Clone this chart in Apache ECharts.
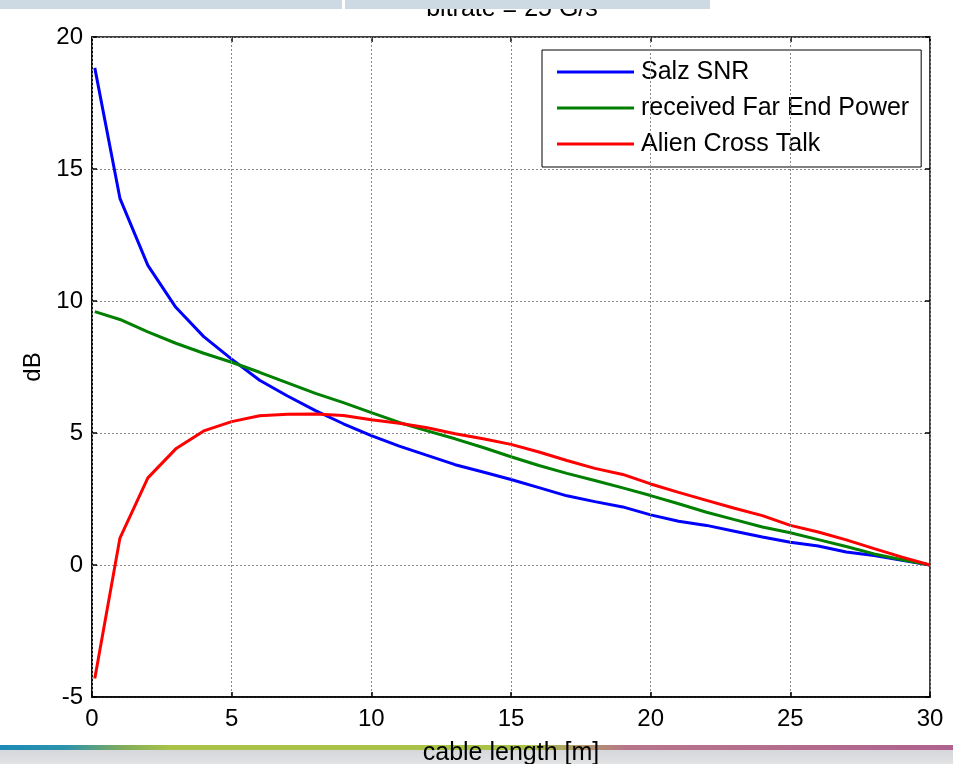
<!DOCTYPE html>
<html>
<head>
<meta charset="utf-8">
<script src="https://cdn.jsdelivr.net/npm/echarts@6/dist/echarts.min.js"></script>
<style>
  html, body { margin: 0; padding: 0; background: #fff; }
  #chart { width: 953px; height: 764px; }
</style>
</head>
<body>
<div id="chart"></div>
<script>
// cable length samples [m]
const cableLength = [0.1, 1, 2, 3, 4, 5, 6, 7, 8, 9, 10, 11, 12, 13, 14, 15,
  16, 17, 18, 19, 20, 21, 22, 23, 24, 25, 26, 27, 28, 29, 30];

// levels in dB
const salzSNR = [18.83, 13.89, 11.35, 9.76, 8.65, 7.80, 7.00, 6.40, 5.85, 5.35,
  4.90, 4.50, 4.15, 3.80, 3.52, 3.24, 2.93, 2.62, 2.40, 2.20, 1.90, 1.66,
  1.50, 1.28, 1.06, 0.86, 0.72, 0.49, 0.36, 0.18, 0.00];
const farEndPower = [9.60, 9.30, 8.83, 8.40, 8.02, 7.68, 7.30, 6.90, 6.50, 6.15,
  5.77, 5.40, 5.08, 4.78, 4.45, 4.10, 3.77, 3.47, 3.20, 2.92, 2.63, 2.32,
  2.00, 1.72, 1.44, 1.22, 0.96, 0.70, 0.42, 0.20, 0.00];
const alienCrossTalk = [-4.30, 1.02, 3.30, 4.40, 5.08, 5.43, 5.65, 5.71, 5.72, 5.66,
  5.50, 5.37, 5.20, 4.97, 4.78, 4.57, 4.28, 3.96, 3.66, 3.43, 3.07, 2.75,
  2.45, 2.15, 1.87, 1.50, 1.25, 0.95, 0.62, 0.30, 0.00];

const seriesNames = ['Salz SNR', 'received Far End Power', 'Alien Cross Talk'];
const seriesColors = ['#0000ff', '#008000', '#ff0000'];
const seriesValues = [salzSNR, farEndPower, alienCrossTalk];

const xTicks = { min: 0, max: 30, interval: 5 };
const yTicks = { min: -5, max: 20, interval: 5 };

const FONT = '"Liberation Sans", Arial, sans-serif';

const chart = echarts.init(document.getElementById('chart'), null, { renderer: 'canvas' });

const pairs = vals => cableLength.map((x, i) => [x, vals[i]]);

// mirrored tick marks on the top and right edges of the box
const mirrorAxis = {
  axisLabel: { show: false },
  splitLine: { show: false },
  axisLine: { show: false, onZero: false },
  axisTick: { show: true, inside: true, length: 5, lineStyle: { color: '#000', width: 1.5 } }
};

chart.setOption({
  animation: false,
  backgroundColor: '#fff',
  title: {
    text: 'bitrate = 25 G/s',
    left: 507,
    textAlign: 'center',
    top: -8,
    textStyle: { fontFamily: FONT, fontSize: 25, fontWeight: 'normal', color: '#000' }
  },
  grid: {
    left: 92, right: 23, top: 37, bottom: 67,
    containLabel: false,
    outerBoundsMode: 'none',
    show: true, borderColor: '#000', borderWidth: 1.5, backgroundColor: '#fff'
  },
  legend: {
    orient: 'vertical',
    left: 542, top: 50,
    padding: [7, 12, 8, 15],
    itemGap: 6,
    itemWidth: 77, itemHeight: 3,
    itemStyle: { borderWidth: 0 },
    icon: 'rect',
    backgroundColor: '#fff',
    borderColor: '#000', borderWidth: 1,
    textStyle: { fontFamily: FONT, fontSize: 25, color: '#000', lineHeight: 30, padding: [0, 0, 0, 2] },
    data: seriesNames
  },
  xAxis: [
    {
      type: 'value', min: xTicks.min, max: xTicks.max, interval: xTicks.interval,
      position: 'bottom', z: 5,
      name: 'cable length [m]', nameLocation: 'middle', nameGap: 44,
      nameTextStyle: { fontFamily: FONT, fontSize: 25, color: '#000' },
      axisLine: { show: true, onZero: false, lineStyle: { color: '#000', width: 1.5 } },
      axisTick: { show: true, inside: true, length: 5, lineStyle: { color: '#000', width: 1.5 } },
      axisLabel: { fontFamily: FONT, fontSize: 24, color: '#000', margin: 10 },
      splitLine: { show: true, lineStyle: { color: '#8a8a8a', type: [2, 2], width: 1 } }
    },
    Object.assign({ type: 'value', min: xTicks.min, max: xTicks.max, interval: xTicks.interval, position: 'top' }, mirrorAxis)
  ],
  yAxis: [
    {
      type: 'value', min: yTicks.min, max: yTicks.max, interval: yTicks.interval,
      position: 'left',
      name: 'dB', nameLocation: 'middle', nameGap: 44,
      nameTextStyle: { fontFamily: FONT, fontSize: 24, color: '#000' },
      axisLine: { show: true, onZero: false, lineStyle: { color: '#000', width: 1.5 } },
      axisTick: { show: true, inside: true, length: 5, lineStyle: { color: '#000', width: 1.5 } },
      axisLabel: { fontFamily: FONT, fontSize: 24, color: '#000', margin: 9 },
      splitLine: { show: true, lineStyle: { color: '#8a8a8a', type: [2, 2], width: 1 } }
    },
    Object.assign({ type: 'value', min: yTicks.min, max: yTicks.max, interval: yTicks.interval, position: 'right' }, mirrorAxis)
  ],
  series: seriesNames.map((name, i) => ({
    name,
    type: 'line',
    xAxisIndex: 0, yAxisIndex: 0,
    data: pairs(seriesValues[i]),
    showSymbol: false,
    symbol: 'none',
    color: seriesColors[i],
    lineStyle: { color: seriesColors[i], width: 3 },
    z: 2
  })),
  graphic: [
    // header tabs
    { type: 'rect', z: 100, shape: { x: 0, y: 0, width: 342, height: 9 }, style: { fill: '#cdd9e3' } },
    { type: 'rect', z: 100, shape: { x: 345, y: 0, width: 365, height: 9 }, style: { fill: '#cdd9e3' } },
    // footer: gray strip and colored rule
    { type: 'rect', z: 0, shape: { x: 0, y: 750, width: 953, height: 14 },
      style: { fill: new echarts.graphic.LinearGradient(0, 0, 0, 1, [
        { offset: 0, color: '#d6d7da' }, { offset: 1, color: '#e2e3e5' }]) } },
    { type: 'rect', z: 0, shape: { x: 0, y: 745, width: 953, height: 5 },
      style: { fill: new echarts.graphic.LinearGradient(0, 0, 1, 0, [
        { offset: 0, color: '#1a8ab8' },
        { offset: 0.07, color: '#2e93aa' },
        { offset: 0.13, color: '#82ad5a' },
        { offset: 0.18, color: '#a8c347' },
        { offset: 0.55, color: '#a8c347' },
        { offset: 0.66, color: '#b7758a' },
        { offset: 1, color: '#b0628f' }]) } }
  ]
});
</script>
</body>
</html>
